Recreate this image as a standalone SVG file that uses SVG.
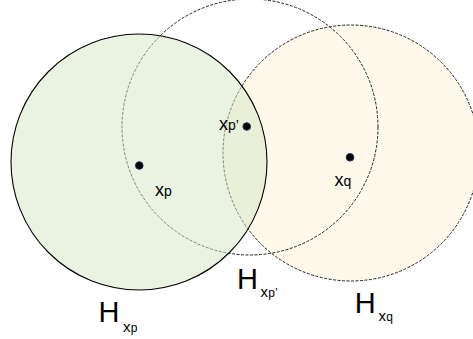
<svg xmlns="http://www.w3.org/2000/svg" width="473" height="339" viewBox="0 0 473 339">
<style>
text{font-family:"Liberation Sans",Arial,sans-serif;fill:#000}
.dash{fill:none;stroke:#222;stroke-width:1;stroke-dasharray:3 1.5}
.dot{fill:#000;stroke:#1c2f5a;stroke-width:1}
</style>
<rect width="473" height="339" fill="#fff"/>
<g id="Hxq">
<circle cx="351" cy="153" r="128" fill="#fef9ea" stroke="#222" stroke-width="1" stroke-dasharray="3 1.5"/>
</g>
<g id="Hxp_prime">
<circle class="dash" cx="250" cy="127" r="128"/>
</g>
<g id="Hxp">
<circle cx="139" cy="162" r="128" fill="#d5e7c5" fill-opacity="0.5" stroke="#000" stroke-width="1.1"/>
</g>
<g id="points">
<circle class="dot" cx="139.3" cy="165.5" r="3.8"/>
<circle class="dot" cx="246.7" cy="126.5" r="3.8"/>
<circle class="dot" cx="350" cy="157.3" r="3.8"/>
</g>
<g id="labels">
<text><tspan x="155" y="196" font-size="18">x</tspan><tspan x="164" y="196" font-size="14">p</tspan></text>
<text><tspan x="219" y="129.5" font-size="18">x</tspan><tspan x="228" y="129.5" font-size="14">p’</tspan></text>
<text><tspan x="334.5" y="185.5" font-size="18">x</tspan><tspan x="343.5" y="185.5" font-size="14">q</tspan></text>
<text><tspan x="98.5" y="321.5" font-size="29">H</tspan><tspan x="123" y="331.5" font-size="15">x</tspan><tspan x="130.8" y="331.5" font-size="12">p</tspan></text>
<text><tspan x="237" y="288.5" font-size="29">H</tspan><tspan x="260.5" y="297" font-size="15">x</tspan><tspan x="268.3" y="297" font-size="12">p’</tspan></text>
<text><tspan x="354.8" y="312.5" font-size="29">H</tspan><tspan x="378.5" y="321" font-size="15">x</tspan><tspan x="386.3" y="321" font-size="12">q</tspan></text>
</g>
</svg>
